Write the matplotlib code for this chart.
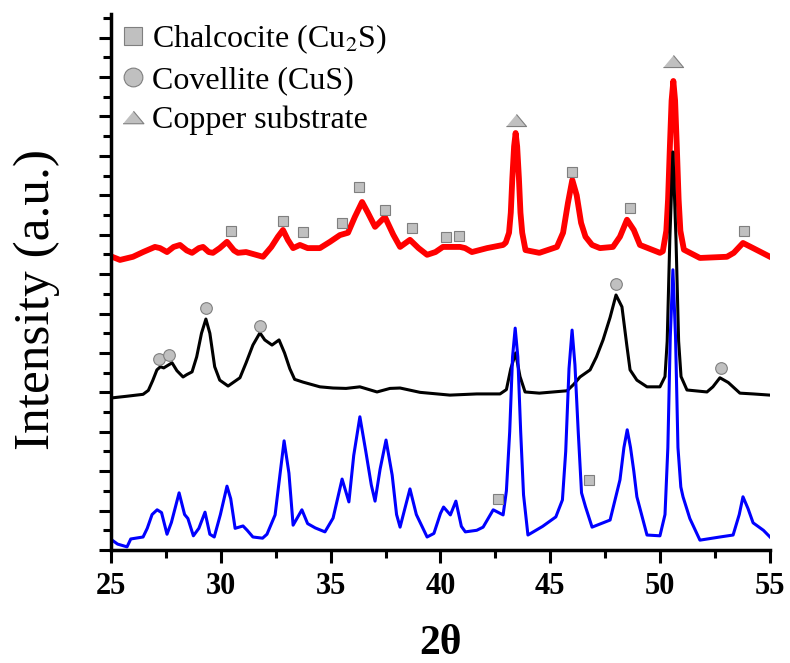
import numpy as np
import matplotlib
matplotlib.use("Agg")
import matplotlib.pyplot as plt
from matplotlib.lines import Line2D

plt.rcParams['font.family'] = ['Liberation Serif', 'DejaVu Serif']
plt.rcParams['mathtext.fontset'] = 'stix'

# XRD patterns (2theta, stacked intensity in a.u.)
red_2theta = [25.05, 25.41, 26.0, 26.46, 27.0, 27.23, 27.55, 27.85, 28.14, 28.45,
              28.69, 29.0, 29.19, 29.45, 29.64, 29.95, 30.28, 30.6, 30.78, 31.15,
              31.92, 32.3, 32.6, 32.83, 33.05, 33.29, 33.6, 33.95, 34.51, 34.97,
              35.42, 35.79, 36.1, 36.43, 36.7, 37.02, 37.47, 37.85, 38.16, 38.61,
              39.0, 39.39, 39.77, 40.11, 40.57, 40.89, 41.12, 41.43, 42.12, 42.85,
              42.97, 43.12, 43.2, 43.27, 43.35, 43.42, 43.49, 43.57, 43.64, 43.72,
              43.87, 44.5, 45.3, 45.58, 45.8, 46.0, 46.2, 46.4, 46.6, 46.9,
              47.26, 47.85, 48.17, 48.49, 48.8, 49.08, 49.99, 50.12, 50.28, 50.36,
              50.44, 50.52, 50.6, 50.68, 50.76, 50.84, 50.92, 51.08, 51.81, 53.04,
              53.35, 53.77, 54.23, 55.0]
red_int = [7.44, 7.36, 7.44, 7.56, 7.69, 7.66, 7.56, 7.69, 7.74, 7.6,
           7.54, 7.66, 7.69, 7.56, 7.54, 7.66, 7.82, 7.6, 7.54, 7.56,
           7.44, 7.69, 7.95, 8.12, 7.87, 7.66, 7.74, 7.66, 7.66, 7.82,
           7.99, 8.05, 8.45, 8.83, 8.55, 8.2, 8.45, 8.0, 7.69, 7.87,
           7.66, 7.49, 7.56, 7.69, 7.69, 7.69, 7.66, 7.56, 7.66, 7.74,
           7.8, 8.05, 8.56, 9.43, 10.24, 10.58, 10.24, 9.43, 8.56, 8.05,
           7.61, 7.54, 7.69, 8.05, 8.8, 9.39, 9.0, 8.3, 7.95, 7.74,
           7.66, 7.69, 7.95, 8.38, 8.12, 7.74, 7.54, 7.58, 8.1, 8.9,
           10.2, 11.4, 11.9, 11.4, 10.2, 8.9, 8.1, 7.62, 7.41, 7.44,
           7.54, 7.79, 7.66, 7.44]

black_2theta = [25.05, 25.7, 26.46, 26.7, 26.9, 27.09, 27.25, 27.4, 27.78, 28.0,
                28.28, 28.45, 28.69, 28.9, 29.12, 29.32, 29.5, 29.72, 29.95, 30.33,
                30.87, 31.15, 31.46, 31.78, 32.0, 32.33, 32.65, 32.9, 33.14, 33.36,
                33.74, 34.51, 35.11, 35.7, 36.33, 37.11, 37.7, 38.16, 39.07, 40.43,
                41.65, 42.71, 43.0, 43.2, 43.42, 43.62, 43.85, 44.5, 45.76, 46.06,
                46.35, 46.81, 47.1, 47.4, 47.72, 47.99, 48.26, 48.48, 48.63, 48.94,
                49.4, 49.99, 50.22, 50.32, 50.44, 50.58, 50.72, 50.84, 50.95, 51.22,
                52.13, 52.4, 52.72, 53.1, 53.63, 54.23, 55.0]
black_int = [3.86, 3.9, 3.95, 4.05, 4.3, 4.57, 4.65, 4.62, 4.75, 4.55,
             4.39, 4.45, 4.52, 4.9, 5.5, 5.86, 5.5, 4.65, 4.31, 4.16,
             4.37, 4.75, 5.2, 5.51, 5.33, 5.2, 5.33, 5.0, 4.6, 4.33,
             4.26, 4.14, 4.11, 4.1, 4.14, 4.01, 4.1, 4.11, 4.0, 3.93,
             3.96, 3.96, 4.07, 4.6, 5.0, 4.4, 4.01, 3.98, 4.04, 4.2,
             4.39, 4.57, 4.9, 5.33, 5.9, 6.47, 6.17, 5.2, 4.57, 4.31,
             4.14, 4.14, 4.4, 5.3, 7.9, 10.1, 7.9, 5.3, 4.4, 4.06,
             4.01, 4.14, 4.37, 4.25, 3.98, 3.96, 3.93]

blue_2theta = [25.05, 25.3, 25.73, 25.9, 26.46, 26.65, 26.87, 27.1, 27.3, 27.55,
               27.75, 28.1, 28.35, 28.5, 28.75, 29.0, 29.28, 29.5, 29.7, 29.98,
               30.28, 30.45, 30.65, 31.01, 31.2, 31.46, 31.9, 32.1, 32.47, 32.7,
               32.88, 33.1, 33.29, 33.69, 33.95, 34.3, 34.74, 35.11, 35.52, 35.83,
               36.05, 36.33, 36.6, 36.85, 37.02, 37.25, 37.52, 37.8, 38.0, 38.16,
               38.4, 38.61, 38.9, 39.39, 39.7, 40.0, 40.14, 40.45, 40.7, 40.95,
               41.13, 41.65, 41.94, 42.4, 42.85, 43.0, 43.15, 43.28, 43.4, 43.52,
               43.65, 43.78, 43.98, 44.65, 45.25, 45.55, 45.7, 45.85, 45.99, 46.12,
               46.27, 46.42, 46.6, 46.9, 47.72, 48.17, 48.35, 48.5, 48.65, 48.8,
               48.94, 49.4, 49.99, 50.22, 50.35, 50.46, 50.58, 50.7, 50.81, 50.94,
               51.04, 51.35, 51.81, 52.72, 53.32, 53.6, 53.77, 54.0, 54.23, 54.7,
               55.0]
blue_int = [0.25, 0.15, 0.08, 0.28, 0.33, 0.55, 0.9, 1.02, 0.95, 0.4,
            0.7, 1.45, 0.9, 0.8, 0.36, 0.55, 0.96, 0.4, 0.33, 0.9,
            1.62, 1.3, 0.55, 0.61, 0.5, 0.33, 0.3, 0.4, 0.89, 1.95,
            2.77, 1.95, 0.63, 1.02, 0.67, 0.56, 0.46, 0.81, 1.8, 1.22,
            2.4, 3.38, 2.5, 1.65, 1.24, 2.05, 2.79, 1.9, 0.9, 0.58,
            1.1, 1.55, 0.9, 0.33, 0.42, 0.93, 1.09, 0.89, 1.24, 0.6,
            0.46, 0.5, 0.58, 1.02, 0.89, 1.5, 3.0, 4.9, 5.63, 4.9,
            3.0, 1.4, 0.38, 0.6, 0.84, 1.27, 2.5, 4.6, 5.58, 4.7,
            3.0, 1.45, 1.1, 0.58, 0.76, 1.78, 2.6, 3.05, 2.6, 2.0,
            1.35, 0.38, 0.36, 0.9, 2.6, 5.4, 7.11, 5.4, 2.6, 1.6,
            1.35, 0.8, 0.25, 0.33, 0.38, 0.9, 1.35, 1.05, 0.69, 0.5,
            0.33]

# phase markers
cu2s_2theta = [30.46, 32.83, 33.74, 35.52, 36.29, 37.47, 38.70, 40.25, 40.84,
               45.99, 48.63, 53.82, 42.62, 46.76]
cu2s_int = [8.10, 8.35, 8.07, 8.30, 9.21, 8.63, 8.17, 7.94, 7.97,
            9.59, 8.68, 8.10, 1.29, 1.78]
cus_2theta = [27.19, 27.64, 29.32, 31.78, 47.99, 52.77]
cus_int = [4.85, 4.95, 6.14, 5.69, 6.75, 4.62]
cu_2theta = [43.44, 50.58]
cu_int = [10.91, 12.41]

legend_labels = ["Chalcocite (Cu$_2$S)", "Covellite (CuS)", "Copper substrate"]

fill = '#c0c0c0'
edge = '#7f7f7f'
tri = [(-1, -0.6), (1, -0.6), (0, 0.6)]

fig = plt.figure(figsize=(7.9, 6.63), dpi=100)
ax = fig.add_axes([111 / 790, 1 - 550 / 663, 659 / 790, 536 / 663])

ax.plot(red_2theta, red_int, color='#ff0000', lw=4.2, solid_joinstyle='round')
ax.plot(black_2theta, black_int, color='black', lw=2.2)
ax.plot(blue_2theta, blue_int, color='#0000ff', lw=2.2)

ax.plot(cu2s_2theta, cu2s_int, ls='none', marker='s', ms=7.8,
        mfc=fill, mec=edge, mew=0.8)
ax.plot(cus_2theta, cus_int, ls='none', marker='o', ms=8.4,
        mfc=fill, mec=edge, mew=0.8)
ax.plot(cu_2theta, cu_int, ls='none', marker=tri, ms=14.5,
        mfc=fill, mec=edge, mew=0.8)

handles = [Line2D([], [], ls='none', marker='s', ms=13, mfc=fill, mec=edge, mew=0.8),
           Line2D([], [], ls='none', marker='o', ms=13.5, mfc=fill, mec=edge, mew=0.8),
           Line2D([], [], ls='none', marker=tri, ms=15, mfc=fill, mec=edge, mew=0.8)]
ax.legend(handles, legend_labels, loc='upper left', frameon=False,
          bbox_to_anchor=(120 / 790, 1 - 22 / 663), bbox_transform=fig.transFigure,
          borderpad=0, borderaxespad=0, handlelength=0.8, handletextpad=0.2,
          labelspacing=0.32, prop={'size': 23})

ax.set_xlim(25, 55)
ax.set_ylim(0, 13.6)
ax.set_xticks(np.arange(25, 56, 5))
ax.set_xticks(np.arange(27.5, 55, 5), minor=True)
ax.set_yticks(np.arange(0, 14, 1))
ax.set_yticks(np.arange(0.5, 14, 1), minor=True)
ax.set_yticklabels([])

for s in ['top', 'right']:
    ax.spines[s].set_visible(False)
for s in ['left', 'bottom']:
    ax.spines[s].set_linewidth(2.5)

ax.tick_params(axis='both', which='major', direction='out', length=9, width=2.2)
ax.tick_params(axis='both', which='minor', direction='out', length=5.5, width=2.2)
ax.tick_params(axis='x', which='major', labelsize=22, pad=7)
for lab in ax.get_xticklabels():
    lab.set_fontweight('bold')

ax.set_xlabel("2θ", fontsize=30, fontweight='bold')
ax.xaxis.set_label_coords(0.5, -0.14)
ax.xaxis.label.set_va('top')
ax.set_ylabel("Intensity (a.u.)", fontsize=37)
ax.yaxis.set_label_coords(-0.078, 0.468)

fig.savefig("out.png", dpi=100)
